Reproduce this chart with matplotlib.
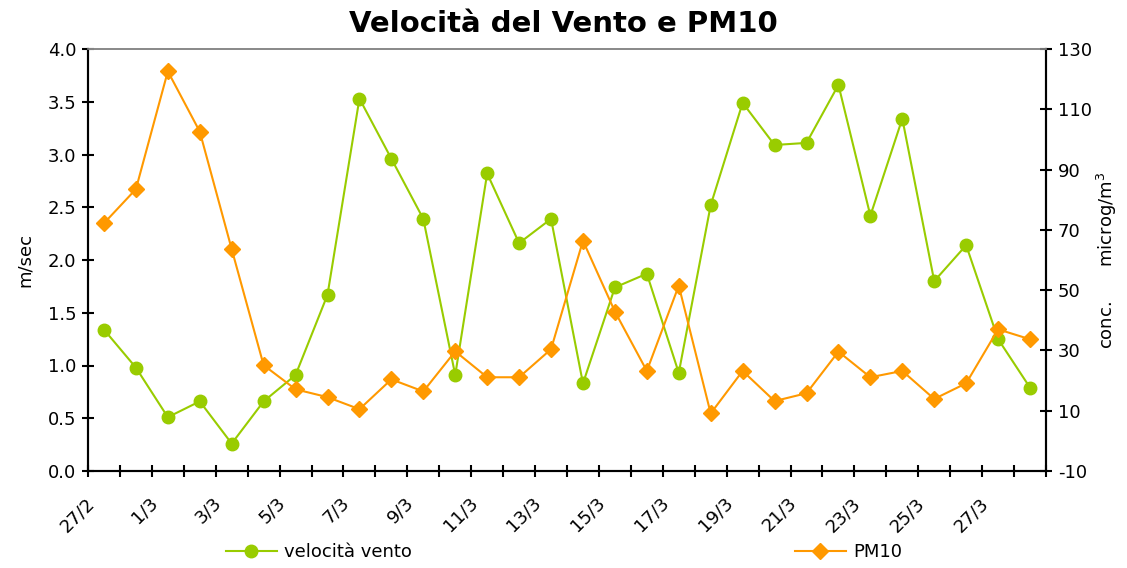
import numpy as np
import matplotlib
matplotlib.use("Agg")
import matplotlib.pyplot as plt
from matplotlib.transforms import ScaledTranslation

# daily values, 27/2 -> 28/3
giorni = ["27/2", "28/2"] + ["%d/3" % d for d in range(1, 29)]
vento = [1.34, 0.98, 0.51, 0.66, 0.26, 0.66, 0.91, 1.67, 3.53, 2.96,
         2.39, 0.91, 2.82, 2.16, 2.39, 0.83, 1.74, 1.87, 0.93, 2.52,
         3.49, 3.09, 3.11, 3.66, 2.42, 3.34, 1.80, 2.14, 1.25, 0.79]
pm10 = [72.2, 83.5, 122.6, 102.6, 63.6, 25.1, 17.1, 14.5, 10.5, 20.4,
        16.4, 29.7, 21.1, 21.1, 30.4, 66.4, 42.9, 23.2, 51.5, 9.1,
        23.2, 13.2, 15.8, 29.6, 21.1, 23.2, 13.9, 19.1, 37.0, 33.7]

verde = "#99CC00"
arancio = "#FF9900"

plt.rcParams["font.family"] = "DejaVu Sans"
plt.rcParams["axes.unicode_minus"] = False
fig = plt.figure(figsize=(11.27, 5.68), dpi=100)
ax = fig.add_axes([88/1127, 1-471/568, (1046-88)/1127, (471-49)/568])
ax2 = ax.twinx()

x = np.arange(len(giorni))
l1, = ax.plot(x, vento, color=verde, lw=1.5, marker="o", ms=9, label="velocità vento")
l2, = ax2.plot(x, pm10, color=arancio, lw=1.5, marker="D", ms=8, label="PM10")

ax.set_xlim(-0.5, len(giorni) - 0.5)
ax.set_ylim(0, 4.0)
ax.set_yticks(np.arange(0, 4.01, 0.5))
ax.set_yticklabels(["%.1f" % v for v in np.arange(0, 4.01, 0.5)])
ax2.set_ylim(-10, 130)
ax2.set_yticks(np.arange(-10, 131, 20))

ax.set_xticks(x[::2][:15])
ax.set_xticklabels(giorni[::2][:15], rotation=45, ha="right", rotation_mode="anchor")
ax.set_xticks(np.arange(-0.5, len(giorni)), minor=True)
ax.tick_params(axis="x", which="major", length=0, labelsize=13, pad=10)
ax.tick_params(axis="x", which="minor", direction="inout", length=9, width=1.5)
ax.tick_params(axis="y", direction="inout", length=9, width=1.5, labelsize=13, pad=4)
ax2.tick_params(axis="y", direction="inout", length=9, width=1.5, labelsize=13, pad=4)

# shift the date labels a bit left/down like the original
shift = ScaledTranslation(-19/100, -9/100, fig.dpi_scale_trans)
for lab in ax.get_xticklabels():
    lab.set_transform(lab.get_transform() + shift)

for a in (ax, ax2):
    for s in ("left", "right", "bottom"):
        a.spines[s].set_linewidth(1.5)
    a.spines["top"].set_color("#888888")
    a.spines["top"].set_linewidth(1.2)

ax.set_ylabel("m/sec", fontsize=13, labelpad=10)
ax2.set_ylabel("conc.      microg/m$^3$", fontsize=13, labelpad=2)

fig.suptitle("Velocità del Vento e PM10", fontsize=21, fontweight="bold", y=0.982)

fig.legend(handles=[l1], loc="center left", bbox_to_anchor=(226/1127, 1-552/568),
           frameon=False, fontsize=13, handlelength=2.8, handletextpad=0.4,
           borderpad=0, borderaxespad=0)
fig.legend(handles=[l2], loc="center left", bbox_to_anchor=(795/1127, 1-552/568),
           frameon=False, fontsize=13, handlelength=2.8, handletextpad=0.4,
           borderpad=0, borderaxespad=0)

fig.savefig("out.png", dpi=100)
